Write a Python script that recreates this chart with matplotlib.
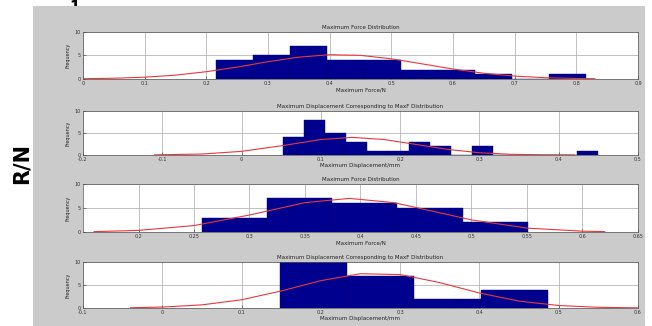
import numpy as np
import matplotlib
matplotlib.use('Agg')
import matplotlib.pyplot as plt
from matplotlib.patches import Rectangle

# specimen 1: maximum force histogram
force1_edges = [0.215, 0.275, 0.335, 0.395, 0.455, 0.515, 0.575, 0.635, 0.695, 0.755, 0.815]
force1_counts = [4, 5, 7, 4, 4, 2, 2, 1, 0, 1]
force1_fit_x = [0.0, 0.05, 0.1, 0.15, 0.2, 0.25, 0.3, 0.35, 0.4, 0.45, 0.5, 0.55, 0.6, 0.65, 0.7, 0.75, 0.8, 0.83]
force1_fit_y = [0.06, 0.16, 0.39, 0.82, 1.55, 2.54, 3.68, 4.65, 5.17, 5.03, 4.3, 3.22, 2.12, 1.22, 0.62, 0.27, 0.11, 0.06]

# specimen 1: displacement at max force
disp1_edges = [0.052, 0.0785, 0.105, 0.1315, 0.158, 0.1845, 0.211, 0.2375, 0.264, 0.2905,
               0.317, 0.3435, 0.370, 0.3965, 0.423, 0.4495]
disp1_counts = [4, 8, 5, 3, 1, 1, 3, 2, 0, 2, 0, 0, 0, 0, 1]
disp1_fit_x = [-0.11, -0.05, 0.0, 0.05, 0.1, 0.14, 0.18, 0.22, 0.26, 0.3, 0.34, 0.38, 0.42]
disp1_fit_y = [0.03, 0.22, 0.83, 2.09, 3.52, 4.0, 3.52, 2.4, 1.27, 0.51, 0.16, 0.04, 0.01]

# specimen 2: maximum force histogram
force2_edges = [0.257, 0.316, 0.374, 0.433, 0.492, 0.551]
force2_counts = [3, 7, 6, 5, 2]
force2_fit_x = [0.16, 0.2, 0.25, 0.3, 0.35, 0.39, 0.43, 0.47, 0.5, 0.55, 0.6, 0.62]
force2_fit_y = [0.08, 0.33, 1.34, 3.54, 6.12, 7.0, 6.12, 4.08, 2.52, 0.81, 0.17, 0.08]

# specimen 2: displacement at max force
disp2_edges = [0.148, 0.233, 0.317, 0.402, 0.486]
disp2_counts = [17, 7, 2, 4]
disp2_fit_x = [-0.04, 0.0, 0.05, 0.1, 0.15, 0.2, 0.25, 0.3, 0.35, 0.4, 0.45, 0.5, 0.55, 0.6]
disp2_fit_y = [0.06, 0.2, 0.68, 1.79, 3.7, 5.95, 7.45, 7.27, 5.52, 3.26, 1.5, 0.54, 0.15, 0.03]

force1_ticks = [0, 0.1, 0.2, 0.3, 0.4, 0.5, 0.6, 0.7, 0.8, 0.9]
force1_labels = ['0', '0.1', '0.2', '0.3', '0.4', '0.5', '0.6', '0.7', '0.8', '0.9']
disp1_ticks = [-0.2, -0.1, 0, 0.1, 0.2, 0.3, 0.4, 0.5]
disp1_labels = ['-0.2', '-0.1', '0', '0.1', '0.2', '0.3', '0.4', '0.5']
force2_ticks = [0.2, 0.25, 0.3, 0.35, 0.4, 0.45, 0.5, 0.55, 0.6, 0.65]
force2_labels = ['0.2', '0.25', '0.3', '0.35', '0.4', '0.45', '0.5', '0.55', '0.6', '0.65']
disp2_ticks = [-0.1, 0, 0.1, 0.2, 0.3, 0.4, 0.5, 0.6]
disp2_labels = ['-0.1', '0', '0.1', '0.2', '0.3', '0.4', '0.5', '0.6']

force_title = 'Maximum Force Distribution'
disp_title = 'Maximum Displacement Corresponding to MaxF Distribution'
force_xlabel = 'Maximum Force/N'
disp_xlabel = 'Maximum Displacement/mm'

fig = plt.figure(figsize=(6.52, 3.26), dpi=100)
fig.patch.set_facecolor('white')

# grey figure panel, with the page text behind it mostly hidden
fig.add_artist(Rectangle((33 / 652, 0), (645 - 33) / 652, 1 - 6 / 326,
                         transform=fig.transFigure, facecolor='#cbcbcb',
                         edgecolor='none', zorder=-1))
fig.text(22 / 652, 0.5, 'R/N', rotation=90, fontsize=15, fontweight='bold',
         ha='center', va='center', zorder=-2)
fig.text(75 / 652, 1 - 15 / 326, '1', fontsize=11, fontweight='bold',
         ha='center', va='bottom', zorder=-2)

left = 83 / 652
width = (638 - 83) / 652
panels = [
    (79, 47, force1_edges, force1_counts, force1_fit_x, force1_fit_y, (0, 0.9),
     force1_ticks, force1_labels, force_title, force_xlabel),
    (155, 44, disp1_edges, disp1_counts, disp1_fit_x, disp1_fit_y, (-0.2, 0.5),
     disp1_ticks, disp1_labels, disp_title, disp_xlabel),
    (232, 48, force2_edges, force2_counts, force2_fit_x, force2_fit_y, (0.15, 0.65),
     force2_ticks, force2_labels, force_title, force_xlabel),
    (308, 46, disp2_edges, disp2_counts, disp2_fit_x, disp2_fit_y, (-0.1, 0.6),
     disp2_ticks, disp2_labels, disp_title, disp_xlabel),
]

for bottom_px, h_px, edges, counts, fx, fy, xlim, ticks, labels, title, xlabel in panels:
    ax = fig.add_axes([left, 1 - bottom_px / 326, width, h_px / 326])
    ax.set_facecolor('white')
    edges = np.array(edges)
    ax.bar(edges[:-1], counts, width=np.diff(edges), align='edge',
           color='#00008f', edgecolor='#00006a', linewidth=0.3, zorder=2)
    ax.plot(fx, fy, color='#e8383a', linewidth=0.8, zorder=3)
    ax.set_xlim(*xlim)
    ax.set_ylim(0, 10)
    ax.set_xticks(ticks)
    ax.set_xticklabels(labels)
    ax.set_yticks([0, 5, 10])
    ax.grid(True, color='#a8a8a8', linewidth=0.5, zorder=0)
    ax.set_axisbelow(True)
    ax.tick_params(direction='in', length=2, width=0.4, labelsize=3.5, pad=1.5,
                   colors='#333333')
    for s in ax.spines.values():
        s.set_linewidth(0.5)
        s.set_color('#555555')
    ax.set_title(title, fontsize=4, pad=2, color='#222222')
    ax.set_xlabel(xlabel, fontsize=4, labelpad=1, color='#222222')
    ax.set_ylabel('Frequency', fontsize=3.5, labelpad=3, color='#222222')

fig.savefig('out.png', dpi=100)
